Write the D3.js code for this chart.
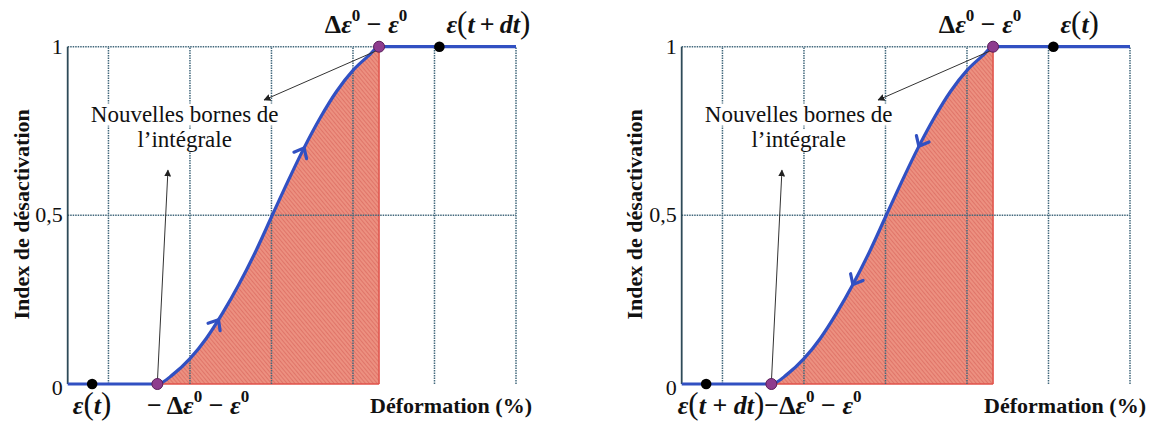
<!DOCTYPE html>
<html>
<head>
<meta charset="utf-8">
<script src="https://cdn.jsdelivr.net/npm/d3@7"></script>
<style>
  html, body { margin: 0; padding: 0; background: #fff; }
  svg { display: block; }
  text { font-family: "Liberation Serif", "Times New Roman", Times, "DejaVu Serif", serif; }
</style>
</head>
<body>
<svg id="chart" width="1150" height="427"></svg>
<script>
// ---------------- DATA ----------------
const xGrid = [1, 2, 3, 4, 5];
const yTicks = [0, 0.5, 1];
const yTickLabels = ["0", "0,5", "1"];
const xDomain = [0.5, 6];
const yDomain = [0, 1];

// activation curve (deformation units, index value)
const curveU = [1.6, 1.8, 2.0, 2.2, 2.4, 2.6, 2.8, 3.0, 3.2, 3.4, 3.6, 3.8, 4.0, 4.2, 4.32];
const curveV = [0, 0.03, 0.075, 0.135, 0.21, 0.295, 0.39, 0.495, 0.6, 0.7, 0.79, 0.868, 0.93, 0.975, 1.0];

const lowBound = [1.6, 0];     // -Δε0 - ε0
const highBound = [4.32, 1];   // Δε0 - ε0
const leftPoint = [0.8, 0];    // black dot at 0
const rightPoint = [5.06, 1];  // black dot at 1

const leftArrowsU = [2.35, 3.4];
const rightArrowsU = [2.6, 3.41];

const annotationText = ["Nouvelles bornes de", "l\u2019intégrale"];
const yTitle = "Index de désactivation";
const xTitle = "Déformation (%)";

// ---------------- LAYOUT ----------------
const TH = "\u2009";
const panels = [
  { x0: 67.7, x1: 516, arrowsU: leftArrowsU, dir: 1,
    topLeft: [{t:"Δ"},{t:"ε",it:1},{t:"0",sup:1},{t:" − "},{t:"ε",it:1},{t:"0",sup:1}],
    topRight: [{t:"ε",it:1},{t:"(",big:1},{t:"t",it:1},{t:TH + "+" + TH},{t:"dt",it:1},{t:")",big:1}],
    bottomLeft: [{t:"ε",it:1},{t:"(",big:1},{t:"t",it:1},{t:")",big:1}],
    bottomMid: [{t:"− Δ"},{t:"ε",it:1},{t:"0",sup:1},{t:" − "},{t:"ε",it:1},{t:"0",sup:1}],
    titleX: 21 },
  { x0: 681.7, x1: 1130, arrowsU: rightArrowsU, dir: -1,
    topLeft: [{t:"Δ"},{t:"ε",it:1},{t:"0",sup:1},{t:" − "},{t:"ε",it:1},{t:"0",sup:1}],
    topRight: [{t:"ε",it:1},{t:"(",big:1},{t:"t",it:1},{t:")",big:1}],
    bottomLeft: [{t:"ε",it:1},{t:"(",big:1},{t:"t",it:1},{t:" + "},{t:"dt",it:1},{t:")",big:1},{t:"−Δ"},{t:"ε",it:1},{t:"0",sup:1},{t:" − "},{t:"ε",it:1},{t:"0",sup:1}],
    bottomMid: null,
    titleX: 634 }
];

const blue = "#3150c2";
const gridCol = "#42687c";

const svg = d3.select("#chart");
svg.append("rect").attr("width", 1150).attr("height", 427).attr("fill", "#fff");

const defs = svg.append("defs");
const pat = defs.append("pattern").attr("id", "hatch").attr("patternUnits", "userSpaceOnUse")
  .attr("width", 3).attr("height", 3).attr("patternTransform", "rotate(-40)");
pat.append("rect").attr("width", 3).attr("height", 3).attr("fill", "#ec9080");
pat.append("line").attr("x1", 0).attr("y1", 0).attr("x2", 0).attr("y2", 3)
  .attr("stroke", "#d8625a").attr("stroke-width", 1.2);

const marker = defs.append("marker").attr("id", "tri").attr("viewBox", "0 0 10 10")
  .attr("refX", 9).attr("refY", 5).attr("markerWidth", 7).attr("markerHeight", 7)
  .attr("markerUnits", "userSpaceOnUse").attr("orient", "auto");
marker.append("path").attr("d", "M0,0 L10,5 L0,10 Z").attr("fill", "#222");

function mathText(g, x, y, segs, anchor) {
  const t = g.append("text").attr("x", x).attr("y", y).attr("text-anchor", anchor)
    .attr("font-weight", "bold").attr("font-size", 26).attr("fill", "#111");
  let shift = 0;
  segs.forEach(s => {
    const ts = t.append("tspan").text(s.t).style("white-space", "pre");
    const target = s.sup ? -12 : 0;
    if (target !== shift) { ts.attr("dy", target - shift); shift = target; }
    if (s.sup) ts.attr("font-size", 17);
    if (s.it) ts.attr("font-style", "italic");
    if (s.big) ts.attr("font-size", 31).attr("font-weight", "normal");
  });
  return t;
}

const fullLine = [[xDomain[0], 0], lowBound]
  .concat(curveU.slice(1, -1).map((u, i) => [u, curveV[i + 1]]))
  .concat([highBound, [xDomain[1], 1]]);

panels.forEach((p, pi) => {
  const x = d3.scaleLinear().domain(xDomain).range([p.x0, p.x1]);
  const y = d3.scaleLinear().domain(yDomain).range([384, 46.7]);
  const g = svg.append("g");

  // hatched area
  const clipId = "clip" + pi;
  defs.append("clipPath").attr("id", clipId).append("rect")
    .attr("x", x(lowBound[0])).attr("y", y(1) - 2)
    .attr("width", x(highBound[0]) - x(lowBound[0])).attr("height", y(0) - y(1) + 2);
  const area = d3.area().x(d => x(d[0])).y0(y(0)).y1(d => y(d[1])).curve(d3.curveMonotoneX);
  g.append("path").datum(fullLine).attr("d", area).attr("fill", "url(#hatch)")
    .attr("clip-path", `url(#${clipId})`);
  g.append("line").attr("x1", x(highBound[0])).attr("x2", x(highBound[0]))
    .attr("y1", y(0)).attr("y2", y(1)).attr("stroke", "#e0524a").attr("stroke-width", 1.5);
  g.append("line").attr("x1", x(lowBound[0])).attr("x2", x(highBound[0]))
    .attr("y1", y(0)).attr("y2", y(0)).attr("stroke", "#e0524a").attr("stroke-width", 1.5);

  // grid
  g.selectAll(".vg").data(xGrid.concat([xDomain[1]])).join("line")
    .attr("x1", d => x(d)).attr("x2", d => x(d)).attr("y1", y(0)).attr("y2", y(1))
    .attr("stroke", gridCol).attr("stroke-width", 1.5).attr("stroke-dasharray", "1.5,1");
  g.selectAll(".hg").data(yTicks.filter(v => v > 0)).join("line")
    .attr("x1", x(xDomain[0])).attr("x2", x(xDomain[1])).attr("y1", d => y(d)).attr("y2", d => y(d))
    .attr("stroke", gridCol).attr("stroke-width", 1.5).attr("stroke-dasharray", "1.5,1");
  // left frame
  g.append("line").attr("x1", x(xDomain[0])).attr("x2", x(xDomain[0]))
    .attr("y1", y(0)).attr("y2", y(1)).attr("stroke", "#2e4a58").attr("stroke-width", 1.8);

  // y tick labels
  g.selectAll(".yt").data(yTicks).join("text")
    .attr("x", x(xDomain[0]) - 5).attr("y", (d, i) => y(d) + (d === 0 ? 11 : 7))
    .attr("text-anchor", "end").attr("font-size", 22).attr("fill", "#111")
    .text((d, i) => yTickLabels[i]);

  // y title
  g.append("text").attr("transform", `translate(${p.titleX},${(y(0) + y(1)) / 2 - 1}) rotate(-90)`)
    .attr("text-anchor", "middle").attr("dy", "0.35em")
    .attr("font-weight", "bold").attr("font-size", 22).attr("fill", "#111").text(yTitle);

  // blue curve
  const line = d3.line().x(d => x(d[0])).y(d => y(d[1])).curve(d3.curveMonotoneX);
  const path = g.append("path").datum(fullLine).attr("d", line).attr("fill", "none")
    .attr("stroke", blue).attr("stroke-width", 3.2);

  // chevrons along curve
  const node = path.node();
  const L = node.getTotalLength();
  function lenAtX(px) {
    let lo = 0, hi = L;
    for (let k = 0; k < 40; k++) {
      const mid = (lo + hi) / 2;
      if (node.getPointAtLength(mid).x < px) lo = mid; else hi = mid;
    }
    return (lo + hi) / 2;
  }
  p.arrowsU.forEach(u => {
    const l = lenAtX(x(u));
    const a = node.getPointAtLength(l - 3), b = node.getPointAtLength(l + 3);
    let ang = Math.atan2(b.y - a.y, b.x - a.x);
    if (p.dir < 0) ang += Math.PI;
    const tip = node.getPointAtLength(l);
    const back = ang + Math.PI, s = 11, spread = 0.7;
    const p1 = [tip.x + s * Math.cos(back + spread), tip.y + s * Math.sin(back + spread)];
    const p2 = [tip.x + s * Math.cos(back - spread), tip.y + s * Math.sin(back - spread)];
    g.append("path").attr("d", `M${p1[0]},${p1[1]} L${tip.x},${tip.y} L${p2[0]},${p2[1]}`)
      .attr("fill", "none").attr("stroke", blue).attr("stroke-width", 3.2)
      .attr("stroke-linecap", "round").attr("stroke-linejoin", "round");
  });

  // annotation text (with white box)
  const tx = x(1.935);
  const tg = g.append("g");
  const t1 = tg.append("text").attr("x", tx).attr("y", y(0.778)).attr("text-anchor", "middle")
    .attr("font-size", 23).attr("fill", "#111").text(annotationText[0]);
  const t2 = tg.append("text").attr("x", tx).attr("y", y(0.703)).attr("text-anchor", "middle")
    .attr("font-size", 23).attr("fill", "#111").text(annotationText[1]);
  const b1 = t1.node().getBBox(), b2 = t2.node().getBBox();
  tg.insert("rect", "text").attr("x", b1.x - 2).attr("y", b1.y + 2).attr("width", b1.width + 4).attr("height", b1.height - 3)
    .attr("fill", "#fff");
  tg.insert("rect", "text").attr("x", b2.x - 2).attr("y", b2.y + 2).attr("width", b2.width + 4).attr("height", b2.height - 3)
    .attr("fill", "#fff");

  // annotation arrows
  g.append("line").attr("x1", x(highBound[0]) - 1).attr("y1", y(0.99))
    .attr("x2", x(2.91)).attr("y2", y(0.842)).attr("stroke", "#333").attr("stroke-width", 1)
    .attr("marker-end", "url(#tri)");
  g.append("line").attr("x1", x(lowBound[0])).attr("y1", y(0.005))
    .attr("x2", x(1.73)).attr("y2", y(0.634)).attr("stroke", "#333").attr("stroke-width", 1)
    .attr("marker-end", "url(#tri)");

  // points
  g.selectAll(".bk").data([leftPoint, rightPoint]).join("circle")
    .attr("cx", d => x(d[0])).attr("cy", d => y(d[1])).attr("r", 5.3).attr("fill", "#000");
  g.selectAll(".pu").data([lowBound, highBound]).join("circle")
    .attr("cx", d => x(d[0])).attr("cy", d => y(d[1])).attr("r", 5.5)
    .attr("fill", "#8e3c8e").attr("stroke", "#5a1f5a").attr("stroke-width", 1);

  // labels
  mathText(g, x(highBound[0]) - 13, 33, p.topLeft, "middle");
  mathText(g, x(rightPoint[0]) + 7, 33, p.topRight, "start");
  if (p.bottomMid) {
    mathText(g, x(leftPoint[0]), 414, p.bottomLeft, "middle");
    mathText(g, x(2.1), 414, p.bottomMid, "middle");
  } else {
    mathText(g, x(xDomain[0]) - 4, 414, p.bottomLeft, "start");
  }
  g.append("text").attr("x", x(xDomain[1]) + 16).attr("y", 413).attr("text-anchor", "end")
    .attr("font-weight", "bold").attr("font-size", 22).attr("fill", "#111")
    .text(xTitle);
});
</script>
</body>
</html>
